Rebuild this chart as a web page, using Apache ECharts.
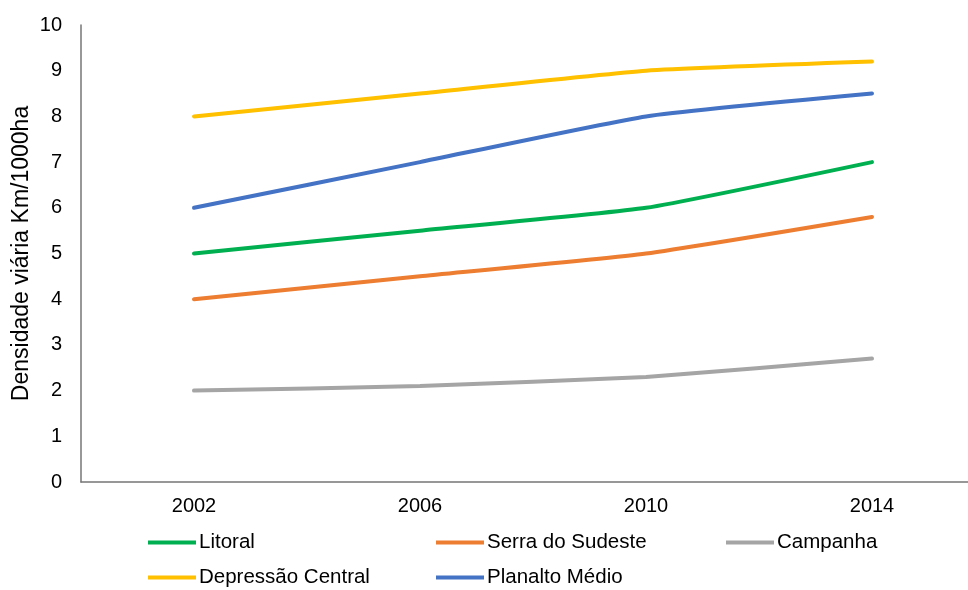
<!DOCTYPE html>
<html>
<head>
<meta charset="utf-8">
<script src="https://cdn.jsdelivr.net/npm/echarts@6/dist/echarts.min.js"></script>
<style>
  html, body { margin: 0; padding: 0; background: #fff; }
  #chart { width: 968px; height: 590px; }
</style>
</head>
<body>
<div id="chart"></div>
<script>
// Road density per region, km per 1000 ha
const years = ['2002', '2006', '2010', '2014'];
const litoral = [5, 5.5, 6, 7];
const serraDoSudeste = [4, 4.5, 5, 5.8];
const campanha = [2, 2.1, 2.3, 2.7];
const depressaoCentral = [8, 8.5, 9, 9.2];
const planaltoMedio = [6, 7, 8, 8.5];

const seriesDefs = [
  { name: 'Litoral', data: litoral, color: '#00B050' },
  { name: 'Serra do Sudeste', data: serraDoSudeste, color: '#ED7D31' },
  { name: 'Campanha', data: campanha, color: '#A5A5A5' },
  { name: 'Depressão Central', data: depressaoCentral, color: '#FFC000' },
  { name: 'Planalto Médio', data: planaltoMedio, color: '#4472C4' }
];

// legend slots laid out in a 3-column grid
const legendSlots = [
  { left: 148, top: 532 },
  { left: 436, top: 532 },
  { left: 726, top: 532 },
  { left: 148, top: 567 },
  { left: 436, top: 567 }
];

const font = 'Arial, "Liberation Sans", sans-serif';

const chart = echarts.init(document.getElementById('chart'), null, { renderer: 'canvas' });
chart.setOption({
  animation: false,
  backgroundColor: '#ffffff',
  grid: {
    left: 81, top: 25, width: 904, height: 457,
    containLabel: false,
    outerBoundsMode: 'none'
  },
  legend: seriesDefs.map((s, i) => ({
    data: [s.name],
    left: legendSlots[i].left,
    top: legendSlots[i].top,
    icon: 'rect',
    itemWidth: 48,
    itemHeight: 4,
    padding: 0,
    textStyle: { fontFamily: font, fontSize: 20.5, color: '#000', padding: [0, 0, 0, -2] },
    selectedMode: false
  })),
  xAxis: {
    type: 'category',
    data: years,
    boundaryGap: true,
    axisLine: { lineStyle: { color: '#767676', width: 1.5 } },
    axisTick: { show: false },
    axisLabel: { fontFamily: font, fontSize: 20, color: '#000', margin: 14 }
  },
  yAxis: {
    type: 'value',
    min: 0,
    max: 10,
    interval: 1,
    name: 'Densidade viária Km/1000ha',
    nameLocation: 'middle',
    nameGap: 48,
    nameMoveOverlap: false,
    nameTextStyle: { fontFamily: font, fontSize: 23, color: '#000' },
    axisLine: { show: true, lineStyle: { color: '#767676', width: 1.5 } },
    axisTick: { show: false },
    splitLine: { show: false },
    axisLabel: { fontFamily: font, fontSize: 20, color: '#000', margin: 19 }
  },
  series: seriesDefs.map(s => ({
    name: s.name,
    type: 'line',
    data: s.data,
    smooth: 0.15,
    symbol: 'none',
    color: s.color,
    lineStyle: { width: 4, color: s.color, cap: 'round' }
  }))
});
</script>
</body>
</html>
